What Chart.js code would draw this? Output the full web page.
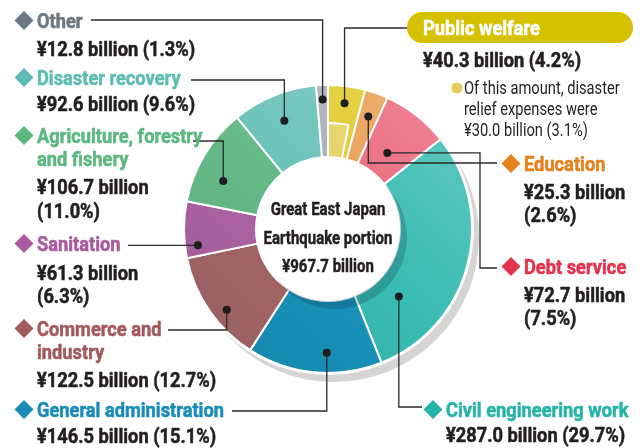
<!DOCTYPE html>
<html>
<head>
<meta charset="utf-8">
<script src="https://cdn.jsdelivr.net/npm/chart.js@4.4.1/dist/chart.umd.min.js"></script>
<style>
  html, body { margin: 0; padding: 0; background: #fff; }
  #wrap { position: relative; width: 640px; height: 448px; overflow: hidden; }
  #chart, #labels { position: absolute; left: 0; top: 0; }
  #labels { pointer-events: none; }
  #labels text { font-family: Roboto, "Liberation Sans", sans-serif; }
  .ttl { font-weight: bold; font-size: 20.5px; stroke-width: 0.55px; }
  .val { font-weight: bold; font-size: 20.5px; fill: #231f20; stroke: #231f20; stroke-width: 0.55px; }
  .sml { font-size: 18px; fill: #231f20; }
  .ctr { font-weight: bold; font-size: 17.5px; fill: #231f20; stroke: #231f20; stroke-width: 0.45px; text-anchor: middle; }
</style>
</head>
<body>
<div id="wrap">
  <canvas id="chart" width="640" height="448"></canvas>
  <svg id="labels" width="640" height="448" xmlns="http://www.w3.org/2000/svg"></svg>
</div>
<script>
// ---------------- DATA ----------------
const categories = ['Public welfare', 'Education', 'Debt service', 'Civil engineering work',
  'General administration', ['Commerce and', 'industry'], 'Sanitation',
  ['Agriculture, forestry', 'and fishery'], 'Disaster recovery', 'Other'];
const amounts = [40.3, 25.3, 72.7, 287.0, 146.5, 122.5, 61.3, 106.7, 92.6, 12.8]; // ¥ billion
const shares = [4.2, 2.6, 7.5, 29.7, 15.1, 12.7, 6.3, 11.0, 9.6, 1.3];            // %
const reliefAmount = 30.0;   // disaster relief part of public welfare
const reliefShare = 3.1;
const totalAmount = 967.7;

// colours
const fillColors = ['#e2ca2c', '#ea9d50', '#ea677c', '#38bbb2', '#1892ba', '#a46667',
  '#ad63a4', '#66ba88', '#6ac2b9', '#a8aeb4'];
const labelColors = ['#ffffff', '#e6821e', '#e1354f', '#27b4a8', '#1a8cb7', '#a35a5d',
  '#a95b9f', '#5db780', '#5ebdb2', '#6c7880'];
const reliefColor = '#e8d570';
const badgeColor = '#d6c100';

// ---------------- LAYOUT ----------------
// label anchor x, baselines of title lines, baselines of value lines
const labelPos = [
  { x: 423, ty: [35],       vy: [67] },
  { x: 524, ty: [171],      vy: [199, 222] },
  { x: 524, ty: [274],      vy: [302, 325] },
  { x: 446, ty: [417],      vy: [442] },
  { x: 37,  ty: [417],      vy: [443] },
  { x: 37,  ty: [336, 359], vy: [387] },
  { x: 37,  ty: [251],      vy: [280, 303] },
  { x: 37,  ty: [143, 166], vy: [194, 218] },
  { x: 37,  ty: [85],       vy: [111] },
  { x: 37,  ty: [28],       vy: [56] },
];
// leader dot: fraction along the arc, fraction of outer radius; then elbow path
const leaders = [
  { f: 0.5,  r: 0.88, path: [['v', 28], ['h', 408]] },
  { f: 0.5,  r: 0.83, path: [['v', 163], ['h', 497]] },
  { f: 0.5,  r: 0.67, path: [['h', 480], ['v', 268], ['h', 497]] },
  { f: 0.77, r: 0.68, path: [['v', 407], ['h', 422]] },
  { f: 0.41, r: 0.86, path: [['v', 411], ['h', 232]] },
  { f: 0.41, r: 0.90, path: [['v', 330], ['h', 168]] },
  { f: 0.2,  r: 0.91, path: [['h', 128]] },
  { f: 0.34, r: 0.80, path: [['v', 141], ['h', 193]] },
  { f: 0.5,  r: 0.81, path: [['v', 80], ['h', 191]] },
  { f: 0.5,  r: 0.90, path: [['v', 20], ['h', 91]] },
];

// helper: mix a hex colour with white (t>0) or black (t<0)
function mix(hex, t) {
  const n = parseInt(hex.slice(1), 16);
  const c = [n >> 16, (n >> 8) & 255, n & 255].map(v =>
    Math.round(t > 0 ? v + (255 - v) * t : v * (1 + t)));
  return `rgb(${c[0]},${c[1]},${c[2]})`;
}

// soft light from the top right
function shaded(c) {
  const base = fillColors[c.dataIndex];
  const area = c.chart.chartArea;
  if (!area || base === undefined) return base;
  const g = c.chart.ctx.createLinearGradient(area.right, area.top, area.left, area.bottom);
  g.addColorStop(0, mix(base, 0.22));
  g.addColorStop(0.5, base);
  g.addColorStop(1, mix(base, -0.08));
  return g;
}

// ---------------- CHART ----------------
const innerValues = [reliefAmount, amounts[0] - reliefAmount].concat(amounts.slice(1));
const innerColors = innerValues.map((_, i) => i === 0 ? reliefColor : 'rgba(0,0,0,0)');
const innerBorders = innerValues.map((_, i) => i === 0 ? 2 : 0);

const decor = {
  id: 'decor',
  beforeDatasetsDraw(chart) {
    const a = chart.getDatasetMeta(0).data[0];
    if (!a) return;
    const ctx = chart.ctx;
    ctx.save();
    ctx.fillStyle = '#d5d5d5';
    ctx.beginPath(); ctx.arc(a.x + 6, a.y + 8, a.outerRadius + 1, 0, Math.PI * 2); ctx.fill();
    ctx.fillStyle = '#fff';
    ctx.beginPath(); ctx.arc(a.x, a.y, a.outerRadius + 2, 0, Math.PI * 2); ctx.fill();
    ctx.restore();
  },
  afterDatasetsDraw(chart) {
    const a = chart.getDatasetMeta(0).data[0];
    if (!a) return;
    const ctx = chart.ctx;
    ctx.save();
    // shadow of the centre disc
    ctx.fillStyle = 'rgba(0,45,60,0.22)';
    ctx.beginPath(); ctx.arc(a.x + 7, a.y + 8, a.innerRadius, 0, Math.PI * 2); ctx.fill();
    ctx.fillStyle = '#fff';
    ctx.beginPath(); ctx.arc(a.x, a.y, a.innerRadius, 0, Math.PI * 2); ctx.fill();
    ctx.restore();
  },
  afterDraw(chart) {
    const meta = chart.getDatasetMeta(0);
    const ctx = chart.ctx;
    ctx.save();
    ctx.strokeStyle = '#2b2b2b';
    ctx.fillStyle = '#1e1e1e';
    ctx.lineWidth = 1.3;
    leaders.forEach((ld, i) => {
      const a = meta.data[i];
      const ang = a.startAngle + ld.f * (a.endAngle - a.startAngle);
      const dx = a.x + Math.cos(ang) * ld.r * a.outerRadius;
      const dy = a.y + Math.sin(ang) * ld.r * a.outerRadius;
      let px = dx, py = dy;
      ctx.beginPath();
      ctx.moveTo(px, py);
      ld.path.forEach(([dir, v]) => {
        if (dir === 'v') py = v; else px = v;
        ctx.lineTo(px, py);
      });
      ctx.stroke();
      ctx.beginPath();
      ctx.arc(dx, dy, 4, 0, Math.PI * 2);
      ctx.fill();
    });
    ctx.restore();
  }
};

new Chart(document.getElementById('chart'), {
  type: 'doughnut',
  data: {
    labels: categories,
    datasets: [
      {
        data: amounts,
        backgroundColor: shaded,
        borderColor: '#fff',
        borderWidth: 2,
        cutout: 0,
        weight: 1
      },
      {
        // disaster relief portion drawn on the inner half of public welfare
        data: innerValues,
        backgroundColor: innerColors,
        borderColor: '#fff',
        borderWidth: innerBorders,
        radius: '97.2%',
        cutout: '51.4%',
        weight: 1,
        order: -1
      }
    ]
  },
  options: {
    responsive: false,
    animation: false,
    layout: { padding: { left: 183, right: 167, top: 84, bottom: 74 } },
    plugins: { legend: { display: false }, tooltip: { enabled: false } }
  },
  plugins: [decor]
});

// ---------------- LABELS (svg text) ----------------
const svg = document.getElementById('labels');
const NS = 'http://www.w3.org/2000/svg';
function el(tag, attrs, txt) {
  const e = document.createElementNS(NS, tag);
  for (const k in attrs) e.setAttribute(k, attrs[k]);
  if (txt !== undefined) e.textContent = txt;
  svg.appendChild(e);
  return e;
}
// the original face is a condensed grotesque: squeeze to its measured widths
function fitScale(cls, sample, width) {
  const t = el('text', { x: 0, y: -50, class: cls }, sample);
  const w = t.getComputedTextLength();
  svg.removeChild(t);
  return w ? width / w : 1;
}
const sBold = fitScale('val', 'General administration', 187);
const sSmall = fitScale('sml', 'Of this amount, disaster', 156);
const sCtr = fitScale('ctr', 'Earthquake portion', 129);

function text(x, y, cls, str, s, fill) {
  const a = { x: 0, y: 0, class: cls, transform: `translate(${x},${y}) scale(${s.toFixed(3)},1)` };
  if (fill) { a.fill = fill; a.stroke = fill; }
  return el('text', a, str);
}
const fmt = v => v.toFixed(1);

categories.forEach((cat, i) => {
  const p = labelPos[i];
  const lines = Array.isArray(cat) ? cat : [cat];
  if (i === 0) {
    el('rect', { x: 407, y: 12, width: 226, height: 31, rx: 15.5, fill: badgeColor });
  } else {
    const cx = p.x - 13, cy = p.ty[0] - 7.5, h = 9.5;
    el('polygon', { points: `${cx},${cy - h} ${cx + h},${cy} ${cx},${cy + h} ${cx - h},${cy}`, fill: labelColors[i] });
  }
  lines.forEach((ln, k) => text(p.x, p.ty[k], 'ttl', ln, sBold, labelColors[i]));
  const yen = `¥${fmt(amounts[i])} billion`, pct = `(${fmt(shares[i])}%)`;
  if (p.vy.length > 1) {
    text(p.x, p.vy[0], 'val', yen, sBold);
    text(p.x, p.vy[1], 'val', pct, sBold);
  } else {
    text(p.x, p.vy[0], 'val', `${yen} ${pct}`, sBold);
  }
});

// relief note under public welfare
el('circle', { cx: 457, cy: 88, r: 5.5, fill: '#e3cd5c' });
['Of this amount, disaster', 'relief expenses were',
  `¥${fmt(reliefAmount)} billion (${fmt(reliefShare)}%)`]
  .forEach((t, k) => text(464, 94 + k * 21, 'sml', t, sSmall));

// centre text
['Great East Japan', 'Earthquake portion', `¥${fmt(totalAmount)} billion`]
  .forEach((t, k) => text(328, 215 + k * 28.5, 'ctr', t, sCtr));
</script>
</body>
</html>
